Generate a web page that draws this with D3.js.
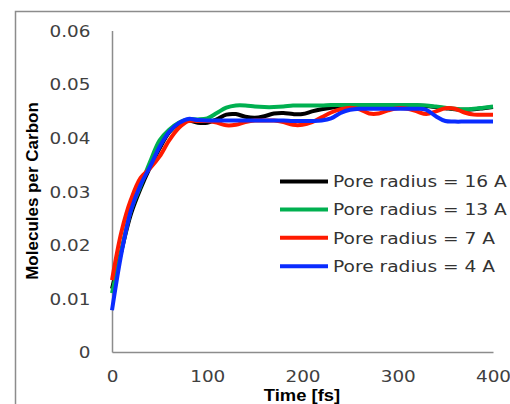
<!DOCTYPE html>
<html>
<head>
<meta charset="utf-8">
<script src="https://cdn.jsdelivr.net/npm/d3@7"></script>
<style>
  body { margin: 0; background: #fff; }
  svg { display: block; }
</style>
</head>
<body>
<div id="chart-container"></div>
<script>
// Data (time in fs, molecules per carbon)
const times = [0, 10, 20, 30, 40, 50, 60, 70, 80, 90, 100, 110, 120, 130, 140, 150, 160, 170, 180, 190, 200,
  210, 220, 230, 240, 250, 260, 270, 280, 290, 300, 310, 320, 330, 340, 350, 360, 370, 380, 390, 400];

const r16 = [0.0118, 0.0190, 0.0258, 0.0305, 0.0345, 0.0380, 0.0410, 0.0426, 0.0432, 0.0428, 0.0428,
  0.0434, 0.0443, 0.0444, 0.0439, 0.0437, 0.0440, 0.0445, 0.0446, 0.0444, 0.0444,
  0.0449, 0.0453, 0.0456, 0.0458, 0.0459, 0.0460, 0.0460, 0.0460, 0.0460, 0.0460,
  0.0460, 0.0460, 0.0459, 0.0457, 0.0455, 0.0453, 0.0452, 0.0453, 0.0455, 0.0457];

const r13 = [0.0110, 0.0190, 0.0265, 0.0310, 0.0355, 0.0395, 0.0415, 0.0428, 0.0434, 0.0434, 0.0436,
  0.0446, 0.0456, 0.0460, 0.0460, 0.0458, 0.0457, 0.0457, 0.0458, 0.0460, 0.0460,
  0.0460, 0.0460, 0.0461, 0.0461, 0.0461, 0.0461, 0.0461, 0.0461, 0.0461, 0.0461,
  0.0461, 0.0461, 0.0460, 0.0458, 0.0456, 0.0454, 0.0453, 0.0454, 0.0456, 0.0458];

const r7 = [0.0134, 0.0225, 0.0285, 0.0325, 0.0343, 0.0365, 0.0395, 0.0418, 0.0431, 0.0431, 0.0431,
  0.0428, 0.0423, 0.0424, 0.0429, 0.0432, 0.0432, 0.0432, 0.0429, 0.0424, 0.0424,
  0.0429, 0.0438, 0.0447, 0.0453, 0.0456, 0.0453, 0.0445, 0.0445, 0.0451, 0.0455,
  0.0454, 0.0449, 0.0444, 0.0449, 0.0455, 0.0454, 0.0447, 0.0443, 0.0443, 0.0443];

const r4 = [0.0078, 0.0185, 0.0265, 0.0312, 0.0346, 0.0383, 0.0411, 0.0427, 0.0435, 0.0433, 0.0432,
  0.0432, 0.0432, 0.0432, 0.0432, 0.0432, 0.0432, 0.0432, 0.0432, 0.0431, 0.0431,
  0.0431, 0.0432, 0.0436, 0.0446, 0.0452, 0.0454, 0.0454, 0.0454, 0.0454, 0.0454,
  0.0454, 0.0454, 0.0452, 0.0440, 0.0431, 0.0430, 0.0430, 0.0430, 0.0430, 0.0430];

const seriesNames = ["Pore radius = 16 A", "Pore radius = 13 A", "Pore radius = 7 A", "Pore radius = 4 A"];
const seriesColors = ["#000000", "#00b050", "#ff1a00", "#0a2cff"];

const xTicks = [0, 100, 200, 300, 400];
const yTicks = [0, 0.01, 0.02, 0.03, 0.04, 0.05, 0.06];

const xTitle = "Time [fs]";
const yTitle = "Molecules per Carbon";

// Layout
const W = 510, H = 404;
const margin = { top: 30.5, right: 17, bottom: 52, left: 112 };
const width = W - margin.left - margin.right;
const height = H - margin.top - margin.bottom;
const stretch = 1.15; // text in the picture is a little wide

const svg = d3.select("#chart-container")
  .append("svg")
  .attr("width", W)
  .attr("height", H);

// outer frame (runs off the right and bottom edges)
svg.append("rect")
  .attr("x", 15.5)
  .attr("y", 11.5)
  .attr("width", 600)
  .attr("height", 500)
  .attr("fill", "none")
  .attr("stroke", "#8c8c8c")
  .attr("stroke-width", 1.5);

const g = svg.append("g")
  .attr("transform", `translate(${margin.left},${margin.top})`);

const x = d3.scaleLinear().domain([0, 400]).range([0, width]);
const y = d3.scaleLinear().domain([0, 0.06]).range([height, 0]);

// axes
const xAxis = g.append("g")
  .attr("transform", `translate(0,${height})`)
  .call(d3.axisBottom(x).tickValues(xTicks).tickSize(0).tickPadding(0).tickFormat(d3.format("d")));

const yAxis = g.append("g")
  .call(d3.axisLeft(y).tickValues(yTicks).tickSize(0).tickFormat(d => d === 0 ? "0" : d3.format(".2f")(d)));

[xAxis, yAxis].forEach(a => {
  a.select(".domain").attr("stroke", "#8c8c8c").attr("stroke-width", 1.5);
  a.selectAll("text")
    .style("font-family", "'DejaVu Sans', Verdana, sans-serif")
    .style("font-size", "16px")
    .attr("fill", "#404040");
});

xAxis.selectAll("text")
  .attr("dy", null)
  .attr("y", 30)
  .attr("transform", `scale(${stretch},1)`);

yAxis.selectAll("text")
  .attr("dy", "0.36em")
  .attr("x", -21.5 / stretch)
  .attr("transform", `scale(${stretch},1)`);

// lines
const line = d3.line()
  .x(d => x(d[0]))
  .y(d => y(d[1]))
  .curve(d3.curveCatmullRom.alpha(0.5));

const allSeries = [r16, r13, r7, r4];

allSeries.forEach((vals, i) => {
  g.append("path")
    .datum(times.map((t, j) => [t, vals[j]]))
    .attr("fill", "none")
    .attr("stroke", seriesColors[i])
    .attr("stroke-width", 4)
    .attr("stroke-linejoin", "round")
    .attr("d", line);
});

// legend
const legendRows = [181.5, 209.5, 237.8, 266.3];
const legend = svg.append("g");

seriesNames.forEach((name, i) => {
  legend.append("line")
    .attr("x1", 280)
    .attr("x2", 328)
    .attr("y1", legendRows[i])
    .attr("y2", legendRows[i])
    .attr("stroke", seriesColors[i])
    .attr("stroke-width", 4);

  legend.append("text")
    .attr("transform", `translate(333,${legendRows[i]}) scale(${stretch},1)`)
    .attr("dy", "0.36em")
    .style("font-family", "'DejaVu Sans', Verdana, sans-serif")
    .style("font-size", "16.2px")
    .attr("fill", "#333333")
    .text(name);
});

// axis titles
svg.append("text")
  .attr("transform", `translate(302,401) scale(${stretch},1)`)
  .attr("text-anchor", "middle")
  .style("font-family", "'Liberation Sans', Arial, sans-serif")
  .style("font-size", "16px")
  .style("font-weight", "bold")
  .attr("fill", "#000")
  .text(xTitle);

svg.append("text")
  .attr("transform", "translate(38,191) rotate(-90)")
  .attr("text-anchor", "middle")
  .style("font-family", "'Liberation Sans Narrow', 'Liberation Sans', Arial, sans-serif")
  .style("font-size", "17px")
  .style("font-weight", "bold")
  .attr("fill", "#000")
  .text(yTitle);
</script>
</body>
</html>
